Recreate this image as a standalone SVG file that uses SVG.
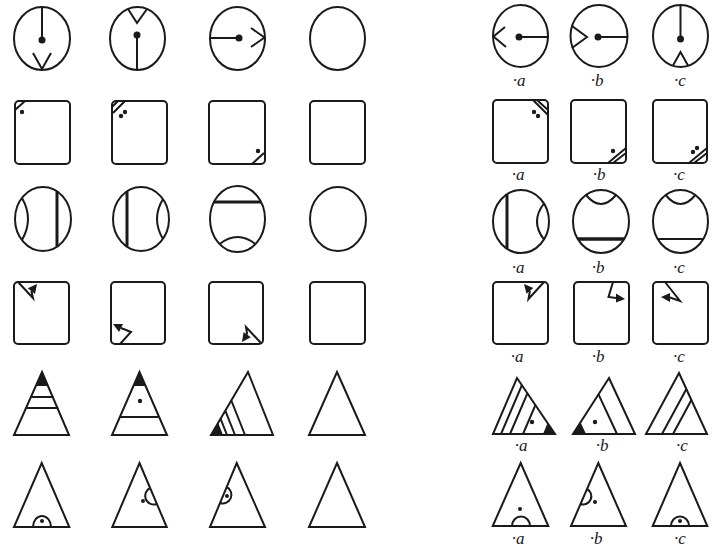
<svg xmlns="http://www.w3.org/2000/svg" width="720" height="550" viewBox="0 0 720 550">
<style>
.s{fill:none;stroke:#1a1a1a;stroke-width:2;stroke-linejoin:miter}
.t{fill:none;stroke:#1a1a1a;stroke-width:3}
.f{fill:#1a1a1a;stroke:none}
.lbl{font-family:"Liberation Serif","DejaVu Serif",serif;font-style:italic;font-size:17px;fill:#1a1a1a;text-anchor:middle}
</style>
<rect width="720" height="550" fill="#ffffff"/>

<!-- Row 1 -->
<g id="r1c1"><ellipse class="s" cx="42" cy="38.5" rx="28" ry="31.5"/><path class="s" d="M42,7 V40 M33,53 L42,69 L51,53"/><circle class="f" cx="42" cy="40" r="3.5"/></g>
<g id="r1c2"><ellipse class="s" cx="137.5" cy="38.5" rx="27.5" ry="31.5"/><path class="s" d="M128,9 L137,23 L147,9 M137,35 V70"/><circle class="f" cx="137" cy="35" r="3.5"/></g>
<g id="r1c3"><ellipse class="s" cx="237.5" cy="38.5" rx="27.5" ry="31.5"/><path class="s" d="M210,38 H239 M251,28 L264.5,37.5 L251,47"/><circle class="f" cx="239" cy="38" r="3.5"/></g>
<g id="r1c4"><ellipse class="s" cx="337.5" cy="38.5" rx="27.5" ry="31.5"/></g>
<g id="r1a"><ellipse class="s" cx="520.5" cy="36" rx="27.5" ry="31"/><path class="s" d="M505,27 L493.5,36.5 L506,47 M519,37 H548"/><circle class="f" cx="519" cy="37" r="3.5"/><text class="lbl" x="519" y="86">·a</text></g>
<g id="r1b"><ellipse class="s" cx="599" cy="36" rx="28.5" ry="31"/><path class="s" d="M572,26 L587,37 L572,48 M598,37 H627.5"/><circle class="f" cx="598" cy="37" r="3.5"/><text class="lbl" x="597" y="86">·b</text></g>
<g id="r1c"><ellipse class="s" cx="680.5" cy="36" rx="27.5" ry="31"/><path class="s" d="M680.5,5 V39 M673,65.5 L680.5,52 L688,65.5"/><circle class="f" cx="680.5" cy="39" r="3.5"/><text class="lbl" x="680" y="86">·c</text></g>

<!-- Row 2 -->
<g id="r2c1"><rect class="s" x="15" y="101" width="55" height="63" rx="4"/><path class="s" d="M15,110 L25,101"/><circle class="f" cx="22" cy="112" r="2.2"/></g>
<g id="r2c2"><rect class="s" x="112" y="101" width="55" height="63" rx="4"/><path class="s" d="M112,107 L118,101 M113,113 L125,101"/><circle class="f" cx="121" cy="116" r="2.2"/><circle class="f" cx="125" cy="112" r="2.2"/></g>
<g id="r2c3"><rect class="s" x="209" y="101" width="56" height="63" rx="4"/><path class="s" d="M252,164 L264,153"/><circle class="f" cx="258" cy="151" r="2.2"/></g>
<g id="r2c4"><rect class="s" x="310" y="101" width="55" height="63" rx="4"/></g>
<g id="r2a"><rect class="s" x="493" y="100" width="55" height="63" rx="4"/><path class="s" d="M537,100 L548,110 M533,100 L548,115"/><circle class="f" cx="534" cy="112" r="2.2"/><circle class="f" cx="538" cy="116" r="2.2"/><text class="lbl" x="518" y="180">·a</text></g>
<g id="r2b"><rect class="s" x="571" y="100" width="55" height="63" rx="4"/><path class="s" d="M608,163 L626,148 M613,163 L626,153"/><circle class="f" cx="613" cy="151" r="2.2"/><text class="lbl" x="599" y="180">·b</text></g>
<g id="r2c"><rect class="s" x="653" y="100" width="54" height="63" rx="4"/><path class="s" d="M689,163 L707,148 M694,163 L707,153"/><circle class="f" cx="693" cy="152" r="2.2"/><circle class="f" cx="697" cy="148" r="2.2"/><text class="lbl" x="679" y="180">·c</text></g>

<!-- Row 3 -->
<g id="r3c1"><ellipse class="s" cx="43" cy="219" rx="28" ry="32"/><path class="s" d="M22,198 Q34,219 22,240"/><path class="t" d="M57,191.5 V246.5"/></g>
<g id="r3c2"><ellipse class="s" cx="141" cy="219" rx="28" ry="32"/><path class="s" d="M163,199 Q151,219 163,239"/><path class="t" d="M127,191.5 V246.5"/></g>
<g id="r3c3"><ellipse class="s" cx="237.5" cy="219" rx="27.5" ry="33"/><path class="s" d="M219.6,244 Q237.5,230 255.4,244"/><path class="t" d="M214,202 H261"/></g>
<g id="r3c4"><ellipse class="s" cx="338" cy="219" rx="28" ry="32"/></g>
<g id="r3a"><ellipse class="s" cx="521" cy="221.5" rx="28" ry="31.5"/><path class="s" d="M544,203.5 Q530,221.5 544,239.5"/><path class="t" d="M507,194.5 V248.5"/><text class="lbl" x="518" y="273">·a</text></g>
<g id="r3b"><ellipse class="s" cx="601" cy="221.5" rx="28" ry="31.5"/><path class="s" d="M586,195 Q601,213 616,195"/><path class="s" d="M578,239 H624" style="stroke-width:3.5"/><text class="lbl" x="598" y="273">·b</text></g>
<g id="r3c"><ellipse class="s" cx="680.5" cy="221.5" rx="27.5" ry="31.5"/><path class="s" d="M665.6,195 Q680.5,213 695.4,195 M657.6,239 H703.4"/><text class="lbl" x="679" y="273">·c</text></g>

<!-- Row 4 -->
<g id="r4c1"><rect class="s" x="14" y="282" width="55" height="62" rx="4"/><path class="s" d="M18,282 L33,298 L31.4,291"/><polygon class="f" points="37,284 35,293.9 27.8,288.3"/></g>
<g id="r4c2"><rect class="s" x="111" y="282" width="54" height="62" rx="4"/><path class="s" d="M120,344 L131,332 L121,328"/><polygon class="f" points="113,324 123,324 119,332"/></g>
<g id="r4c3"><rect class="s" x="209" y="282" width="54" height="62" rx="4"/><path class="s" d="M261,343 L246,327 L247.2,334.7"/><polygon class="f" points="242,342 250.8,337.3 243.6,332.1"/></g>
<g id="r4c4"><rect class="s" x="310" y="282" width="55" height="62" rx="4"/></g>
<g id="r4a"><rect class="s" x="493" y="282" width="55" height="62" rx="4"/><path class="s" d="M544,282 L528.5,299 L529.9,290.8"/><polygon class="f" points="524,284 533.3,287.9 526.5,293.7"/><text class="lbl" x="517" y="362">·a</text></g>
<g id="r4b"><rect class="s" x="574" y="282" width="55" height="62" rx="4"/><path class="s" d="M613,282 L608.5,297 L616,298"/><polygon class="f" points="625,299 616,293.5 616,302.5"/><text class="lbl" x="598" y="362">·b</text></g>
<g id="r4c"><rect class="s" x="653" y="282" width="55" height="62" rx="4"/><path class="s" d="M665,282 L680,301 L670,297.5"/><polygon class="f" points="661,297 670,293 670,302"/><text class="lbl" x="679" y="362">·c</text></g>

<!-- Row 5 -->
<g id="r5c1"><polygon class="s" points="42,372 69,435 14,435"/><polygon class="f" points="42,372 48.1,386 35.9,386"/><path class="s" d="M30.6,397 H53.4 M25.8,408 H58.2"/></g>
<g id="r5c2"><polygon class="s" points="139.5,372 167,435 112,435"/><polygon class="f" points="139.5,372 145.6,386 133.4,386"/><circle class="f" cx="140" cy="401" r="2.2"/><path class="s" d="M120,417 H159"/></g>
<g id="r5c3"><polygon class="s" points="248,372 273,435 211,435"/><polygon class="f" points="211,435 223,435 218.2,422.8"/><path class="s" d="M227,435 L220.5,418.7 M235,435 L225.3,410.6 M245,435 L231.3,400.5"/></g>
<g id="r5c4"><polygon class="s" points="337,372 365,435 309,435"/></g>
<g id="r5a"><polygon class="s" points="517,378 555,434 493,434"/><polygon class="f" points="543,434 555,434 547.6,423.1"/><path class="s" d="M501,434 L521.9,385.2 M510,434 L527.4,393.3 M523,434 L535.4,405.1"/><circle class="f" cx="532" cy="422" r="2.2"/><text class="lbl" x="521" y="451">·a</text></g>
<g id="r5b"><polygon class="s" points="609,378 635,434 573,434"/><polygon class="f" points="573,434 586,434 580.5,422.2"/><path class="s" d="M617,434 L598.5,394.3"/><circle class="f" cx="595" cy="422" r="2.2"/><text class="lbl" x="602" y="451">·b</text></g>
<g id="r5c"><polygon class="s" points="679,373 707,434 646,434"/><path class="s" d="M662,434 L686.4,389 M673,434 L691.4,400"/><text class="lbl" x="682" y="451">·c</text></g>

<!-- Row 6 -->
<g id="r6c1"><polygon class="s" points="41.7,463 69.3,527 14,527"/><path class="s" d="M33,527 A9,11 0 0 1 51,527"/><circle class="f" cx="42" cy="521" r="2"/></g>
<g id="r6c2"><polygon class="s" points="139.5,463 166.7,527 112.3,527"/><path class="s" d="M150.1,488 A8.7,8.7 0 0 0 156.9,504"/><circle class="f" cx="143" cy="501" r="2"/></g>
<g id="r6c3"><polygon class="s" points="236.7,463 265,527 210,527"/><path class="s" d="M226.7,487 A8.7,8.7 0 0 1 220,503"/><circle class="f" cx="227" cy="496" r="2"/></g>
<g id="r6c4"><polygon class="s" points="337,463 365,527 309,527"/></g>
<g id="r6a"><polygon class="s" points="520.7,463 548.3,526 492.7,526"/><path class="s" d="M512,526 A9,9.5 0 0 1 530,526"/><circle class="f" cx="520" cy="509" r="2"/><text class="lbl" x="518" y="544">·a</text></g>
<g id="r6b"><polygon class="s" points="598.3,463 626,526 571,526"/><path class="s" d="M587,489 A8.2,8.2 0 0 1 580.5,504"/><circle class="f" cx="595" cy="502" r="2"/><text class="lbl" x="596" y="544">·b</text></g>
<g id="r6c"><polygon class="s" points="680,463 707.3,526 652.7,526"/><path class="s" d="M671,526 A9,9.5 0 0 1 689,526"/><circle class="f" cx="680" cy="521" r="2"/><text class="lbl" x="680" y="544">·c</text></g>
</svg>
